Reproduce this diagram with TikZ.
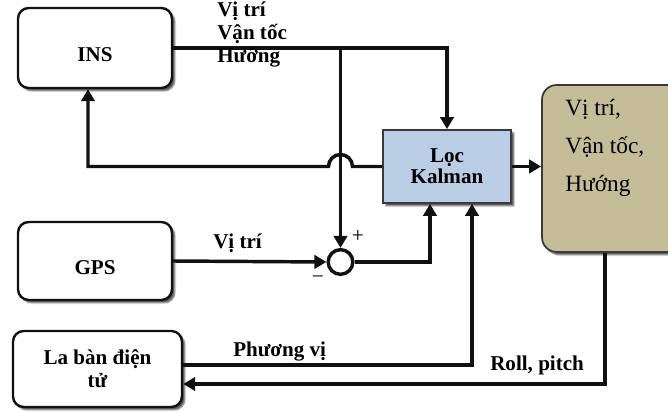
\documentclass[tikz,border=0pt]{standalone}
\usepackage{fontspec}
\setmainfont{Liberation Serif}
\usetikzlibrary{positioning,arrows.meta,calc,shadows.blur}
\definecolor{ink}{HTML}{111111}
\definecolor{edge}{HTML}{3A3A3A}
\definecolor{kal}{HTML}{B9CDE5}
\definecolor{khaki}{HTML}{C4BD97}
\tikzset{
  wire/.style={line width=2.6pt, color=ink},
  flow/.style={wire, -{Triangle[length=9pt,width=10pt]}},
  soft shadow/.style={blur shadow={shadow blur steps=4, shadow xshift=2.2pt,
    shadow yshift=-2.2pt, shadow blur radius=1pt, shadow opacity=65}},
  unit/.style={rounded corners=8pt, draw=ink, fill=white, line width=1.8pt,
    align=center, font=\fontsize{15.8}{17.5}\selectfont\bfseries, soft shadow},
  kbox/.style={draw=edge, fill=kal, line width=1.3pt, align=center,
    font=\fontsize{15.8}{16}\selectfont\bfseries, soft shadow},
  obox/.style={rounded corners=11pt, draw=edge, fill=khaki, line width=1.3pt, soft shadow},
  sumc/.style={circle, draw=ink, fill=white, line width=2.6pt, minimum size=18.5pt, inner sep=0pt},
  lbl/.style={font=\fontsize{15.8}{17.25}\selectfont\bfseries, align=left, anchor=west, inner sep=0pt},
  sgn/.style={font=\fontsize{16}{16}\selectfont, inner sep=0pt},
}
\begin{document}
\begin{tikzpicture}[x=0.75pt,y=-0.75pt]
  \useasboundingbox (0,0) rectangle (668,413);
  \clip (0,0) rectangle (668,413);
  % blocks
  \node[unit, minimum width=115.5pt, minimum height=60pt] (ins) at (95,48) {\raisebox{-10pt}[0pt][0pt]{INS}};
  \node[unit, minimum width=115.5pt, minimum height=58.5pt] (gps) at (95,261) {\raisebox{-10pt}[0pt][0pt]{GPS}};
  \node[unit, minimum width=126.75pt, minimum height=57pt] (cmp) at (97.5,369) {La bàn điện\\tử};
  \node[kbox, minimum width=96pt, minimum height=54.75pt] (kal) at (447,166.5) {Lọc\\Kalman};
  \node[obox, minimum width=118.5pt, minimum height=125.25pt] (out) at (621,168.5) {};
  \node[font=\fontsize{17.5}{28.5}\selectfont, align=left, anchor=west, inner sep=0pt] (outlbl) at (565,148)
    {Vị trí,\\Vận tốc,\\Hướng};
  \node[sumc] (sum) at (340.5,262) {};
  % signals
  \draw[flow] (ins.east) -| (kal.north);
  \coordinate (br) at (sum |- ins.east);
  \draw[flow] (br) -- (sum.north);
  \coordinate (fb) at ($(ins.south)+(-7,0)$);
  \draw[flow] (kal.west) -- ($(sum |- kal.west)+(12,0)$)
    arc[start angle=0, end angle=180, radius=9pt] -- (fb |- kal.west) -- (fb);
  \draw[flow] (gps.east) -- (sum.west);
  \draw[flow] (sum.east) -| ($(kal.south)+(-17,0)$);
  \draw[flow] ($(cmp.east)+(0,-4)$) -| ($(kal.south)+(25,0)$);
  \draw[flow] (kal.east) -- (out.west |- kal.east);
  \draw[flow] ($(out.south)+(-16,0)$) |- ($(cmp.east)+(0,15)$);
  % labels
  \node[lbl] (insout) at (217,35) {Vị trí\\Vận tốc\\Hướng};
  \node[lbl] (gpsout) at (213,243) {Vị trí};
  \node[lbl] (azim) at (233,352) {Phương vị};
  \node[lbl] (rp) at (490,365) {Roll, pitch};
  \node[sgn] (plus) at (358,236) {+};
  \node[sgn] (minus) at (318,280) {−};
\end{tikzpicture}
\end{document}
